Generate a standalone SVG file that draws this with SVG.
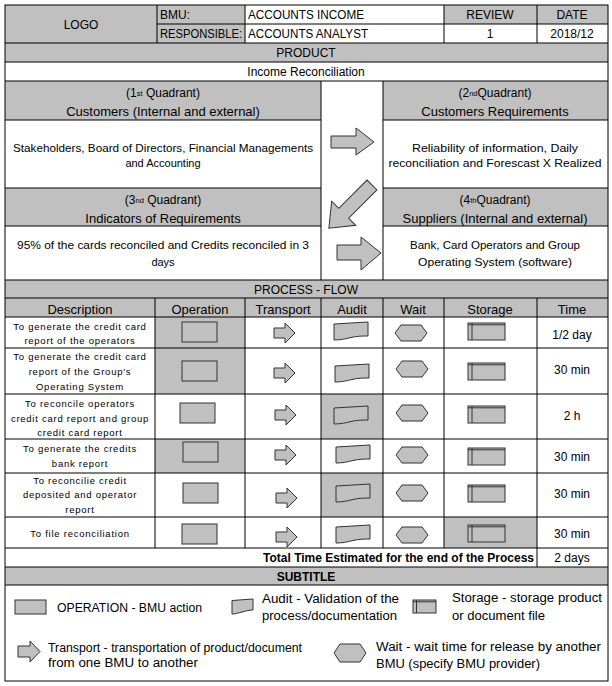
<svg xmlns="http://www.w3.org/2000/svg" width="612" height="686" viewBox="0 0 612 686">
<style>
text{font-family:"Liberation Sans",Arial,sans-serif;fill:#000;dominant-baseline:central}
.c{text-anchor:middle}
.g{fill:#C0C0C0}
.ln{stroke:#000;stroke-width:1;fill:none}
.sh{fill:#C0C0C0;stroke:#333;stroke-width:1}
.f13{font-size:13px}
.f12{font-size:12px}
.f11{font-size:11px}
.f9{font-size:9.5px;letter-spacing:0.75px}
.b{font-weight:bold}
</style>
<defs>
<g id="op"><rect class="sh" x="0" y="0" width="35" height="20"/></g>
<g id="tr"><polygon class="sh" points="0,5 11,5 11,0 21,10 11,20 11,15 0,15"/></g>
<g id="au"><path class="sh" d="M0,2 L34,0 L34,14 C29,14 23,14 17,15.5 C11,17 6,18 0,18 Z"/></g>
<g id="wt"><polygon class="sh" points="6,0 26,0 32,8 26,16 6,16 0,8"/></g>
<g id="st"><rect class="sh" x="0" y="0" width="37" height="17"/><line x1="4" y1="0" x2="4" y2="17" stroke="#333"/><line x1="0" y1="1.8" x2="37" y2="1.8" stroke="#333"/></g>
</defs>

<g id="backgrounds">
<rect x="5" y="5" width="603" height="676" fill="#fff"/>
<rect class="g" x="5" y="5" width="152" height="38"/>
<rect class="g" x="157" y="5" width="88" height="38"/>
<rect class="g" x="444" y="5" width="164" height="19"/>
<rect class="g" x="5" y="43" width="603" height="19"/>
<rect class="g" x="5" y="81" width="316" height="39"/>
<rect class="g" x="383" y="81" width="225" height="39"/>
<rect class="g" x="5" y="188" width="316" height="38"/>
<rect class="g" x="383" y="188" width="225" height="38"/>
<rect class="g" x="5" y="280" width="603" height="37"/>
<rect class="g" x="155" y="317" width="90" height="31"/>
<rect class="g" x="155" y="348" width="90" height="46"/>
<rect class="g" x="321" y="394" width="62" height="45"/>
<rect class="g" x="155" y="439" width="90" height="34"/>
<rect class="g" x="321" y="473" width="62" height="44"/>
<rect class="g" x="444" y="517" width="93" height="31"/>
<rect class="g" x="5" y="567" width="603" height="18"/>
</g>

<g id="connectors">
<rect class="ln" x="5" y="5" width="603" height="676"/>
<path class="ln" d="M157,5V43M245,5V43M444,5V43M537,5V43M157,24H608M5,43H608M5,62H608M5,81H608"/>
<path class="ln" d="M321,81V280M383,81V280M5,120H321M383,120H608M5,188H321M383,188H608M5,226H321M383,226H608M5,280H608"/>
<path class="ln" d="M5,298H608M5,317H608M5,348H608M5,394H608M5,439H608M5,473H608M5,517H608M5,548H608M5,567H608M5,585H608"/>
<path class="ln" d="M155,298V548M245,298V548M321,298V548M383,298V548M444,298V548M537,298V567"/>
</g>

<g id="header">
<text class="c f12" x="81" y="25">LOGO</text>
<text class="f12" x="160" y="15">BMU:</text>
<text class="f12" x="160" y="34" textLength="82" lengthAdjust="spacingAndGlyphs">RESPONSIBLE:</text>
<text class="f12" x="248" y="15" textLength="116" lengthAdjust="spacingAndGlyphs">ACCOUNTS INCOME</text>
<text class="f12" x="248" y="34" textLength="120" lengthAdjust="spacingAndGlyphs">ACCOUNTS ANALYST</text>
<text class="c f12" x="490" y="15">REVIEW</text>
<text class="c f12" x="572" y="15">DATE</text>
<text class="c f12" x="490" y="34">1</text>
<text class="c f12" x="572" y="34">2018/12</text>
<text class="c f12" x="306" y="53">PRODUCT</text>
<text class="c f12" x="306" y="72">Income Reconciliation</text>
</g>

<g id="q1">
<text class="c f12" x="163" y="93">(1<tspan font-size="7.5">st</tspan> Quadrant)</text>
<text class="c f13" x="163" y="111">Customers (Internal and external)</text>
<text class="c f11" x="163" y="148" textLength="300" lengthAdjust="spacingAndGlyphs">Stakeholders, Board of Directors, Financial Managements</text>
<text class="c f11" x="163" y="163">and Accounting</text>
</g>
<g id="q2">
<text class="c f12" x="495" y="93">(2<tspan font-size="7.5">nd</tspan>Quadrant)</text>
<text class="c f13" x="495" y="111">Customers Requirements</text>
<text class="c f11" x="495" y="148" textLength="166" lengthAdjust="spacingAndGlyphs">Reliability of information, Daily</text>
<text class="c f11" x="495" y="163" textLength="213" lengthAdjust="spacingAndGlyphs">reconciliation and Forescast X Realized</text>
</g>
<g id="q3">
<text class="c f12" x="163" y="200">(3<tspan font-size="7.5">nd</tspan> Quadrant)</text>
<text class="c f13" x="163" y="218">Indicators of Requirements</text>
<text class="c f11" x="163" y="245" textLength="292" lengthAdjust="spacingAndGlyphs">95% of the cards reconciled and Credits reconciled in 3</text>
<text class="c f11" x="163" y="262">days</text>
</g>
<g id="q4">
<text class="c f12" x="495" y="200">(4<tspan font-size="7.5">th</tspan>Quadrant)</text>
<text class="c f13" x="495" y="218">Suppliers (Internal and external)</text>
<text class="c f11" x="495" y="245" textLength="170" lengthAdjust="spacingAndGlyphs">Bank, Card Operators and Group</text>
<text class="c f11" x="495" y="262" textLength="154" lengthAdjust="spacingAndGlyphs">Operating System (software)</text>
</g>
<g id="quadrant-arrows">
<polygon class="sh" points="331,136 356,136 356,128 374,142 356,155 356,148 331,148"/>
<polygon class="sh" transform="translate(372,185) rotate(135)" points="0,-7 40,-7 40,-17 61,0 40,17 40,7 0,7"/>
<polygon class="sh" points="337,245 361,245 361,237 381,253 361,270 361,260 337,260"/>
</g>

<g id="process-header">
<text class="c f12" x="306" y="290">PROCESS - FLOW</text>
<text class="c f13" x="80" y="309">Description</text>
<text class="c f13" x="200" y="309">Operation</text>
<text class="c f13" x="283" y="309">Transport</text>
<text class="c f13" x="352" y="309">Audit</text>
<text class="c f13" x="413" y="309">Wait</text>
<text class="c f13" x="490" y="309">Storage</text>
<text class="c f13" x="572" y="309">Time</text>
</g>
<g id="row1">
<text class="c f9" x="80" y="326">To generate the credit card</text>
<text class="c f9" x="80" y="340">report of the operators</text>
<use href="#op" x="182" y="322"/><use href="#tr" x="274" y="323"/><use href="#au" x="334" y="322"/><use href="#wt" x="395" y="325"/><use href="#st" x="468" y="323"/>
<text class="c f12" x="572" y="335">1/2 day</text>
</g>
<g id="row2">
<text class="c f9" x="80" y="356">To generate the credit card</text>
<text class="c f9" x="80" y="371">report of the Group's</text>
<text class="c f9" x="80" y="386">Operating System</text>
<use href="#op" x="182" y="361"/><use href="#tr" x="274" y="363"/><use href="#au" x="335" y="364"/><use href="#wt" x="396" y="361"/><use href="#st" x="468" y="363"/>
<text class="c f12" x="572" y="370">30 min</text>
</g>
<g id="row3">
<text class="c f9" x="80" y="403">To reconcile operators</text>
<text class="c f9" x="80" y="418">credit card report and group</text>
<text class="c f9" x="80" y="432">credit  card report</text>
<use href="#op" x="180" y="403"/><use href="#tr" x="275" y="405"/><use href="#au" x="334" y="406"/><use href="#wt" x="396" y="405"/><use href="#st" x="468" y="406"/>
<text class="c f12" x="572" y="416">2 h</text>
</g>
<g id="row4">
<text class="c f9" x="80" y="448">To generate the credits</text>
<text class="c f9" x="80" y="463">bank report</text>
<use href="#op" x="183" y="442"/><use href="#tr" x="275" y="445"/><use href="#au" x="336" y="445"/><use href="#wt" x="396" y="447"/><use href="#st" x="468" y="448"/>
<text class="c f12" x="572" y="457">30 min</text>
</g>
<g id="row5">
<text class="c f9" x="80" y="480">To reconcilie credit</text>
<text class="c f9" x="80" y="494">deposited and operator</text>
<text class="c f9" x="80" y="509">report</text>
<use href="#op" x="183" y="483"/><use href="#tr" x="276" y="488"/><use href="#au" x="336" y="484"/><use href="#wt" x="396" y="485"/><use href="#st" x="468" y="485"/>
<text class="c f12" x="572" y="494">30 min</text>
</g>
<g id="row6">
<text class="c f9" x="80" y="533">To file reconciliation</text>
<use href="#op" x="182" y="524"/><use href="#tr" x="276" y="527"/><use href="#au" x="336" y="525"/><use href="#wt" x="396" y="527"/><use href="#st" x="468" y="525"/>
<text class="c f12" x="572" y="534">30 min</text>
</g>
<g id="total">
<text class="f12 b" x="534" y="558" text-anchor="end">Total Time Estimated for the end of the Process</text>
<text class="c f12" x="572" y="558">2 days</text>
</g>

<g id="subtitle">
<text class="c f12 b" x="306" y="577">SUBTITLE</text>
</g>
<g id="legend-operation">
<rect class="sh" x="15" y="600" width="31" height="14"/>
<text class="f12" x="57" y="608" textLength="145" lengthAdjust="spacingAndGlyphs">OPERATION - BMU action</text>
</g>
<g id="legend-audit">
<path class="sh" d="M232,600.5 L253,599 L253,610 C249,610 246,611 242,612 C238,613 235,614 232,614 Z"/>
<text class="f12" x="262" y="599" textLength="137" lengthAdjust="spacingAndGlyphs">Audit - Validation of the</text>
<text class="f12" x="262" y="616" textLength="135" lengthAdjust="spacingAndGlyphs">process/documentation</text>
</g>
<g id="legend-storage">
<rect class="sh" x="413" y="600" width="23" height="13"/>
<line x1="416.5" y1="600" x2="416.5" y2="613" stroke="#333"/>
<line x1="413" y1="601.8" x2="436" y2="601.8" stroke="#333"/>
<text class="f12" x="452" y="598" textLength="150" lengthAdjust="spacingAndGlyphs">Storage - storage product</text>
<text class="f12" x="452" y="616" textLength="93" lengthAdjust="spacingAndGlyphs">or document file</text>
</g>
<g id="legend-transport">
<polygon class="sh" points="18,646 30,646 30,641 40,651.5 30,662 30,657 18,657"/>
<text class="f12" x="48" y="648" textLength="254" lengthAdjust="spacingAndGlyphs">Transport - transportation of product/document</text>
<text class="f12" x="48" y="663" textLength="150" lengthAdjust="spacingAndGlyphs">from one BMU to another</text>
</g>
<g id="legend-wait">
<polygon class="sh" points="340,644 360,644 366,653 360,662 340,662 334,653"/>
<text class="f12" x="376" y="647" textLength="225" lengthAdjust="spacingAndGlyphs">Wait - wait time for release by another</text>
<text class="f12" x="376" y="664" textLength="164" lengthAdjust="spacingAndGlyphs">BMU (specify BMU provider)</text>
</g>
</svg>
